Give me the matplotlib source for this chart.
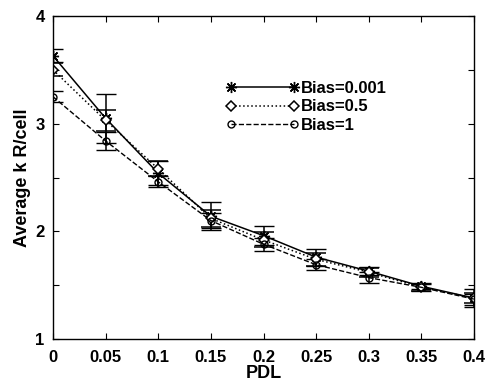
import matplotlib
matplotlib.use('Agg')
import matplotlib.pyplot as plt
from matplotlib.lines import Line2D

plt.rcParams['font.family'] = ['Liberation Sans', 'DejaVu Sans']
plt.rcParams['font.weight'] = 'bold'

pdl = [0, 0.05, 0.1, 0.15, 0.2, 0.25, 0.3, 0.35, 0.4]
bias_0001 = [3.63, 3.05, 2.54, 2.14, 1.96, 1.76, 1.63, 1.49, 1.38]
bias_0001_err = [0.06, 0.23, 0.11, 0.13, 0.09, 0.08, 0.04, 0.03, 0.08]
bias_05 = [3.50, 3.03, 2.58, 2.12, 1.92, 1.74, 1.62, 1.48, 1.38]
bias_05_err = [0.06, 0.10, 0.07, 0.08, 0.07, 0.06, 0.04, 0.03, 0.05]
bias_1 = [3.25, 2.84, 2.46, 2.10, 1.88, 1.69, 1.57, 1.48, 1.37]
bias_1_err = [0.05, 0.08, 0.05, 0.07, 0.06, 0.05, 0.05, 0.03, 0.05]

fig = plt.figure(figsize=(4.88, 3.83), dpi=100)
ax = fig.add_axes([53 / 488, 1 - 339 / 383, 421 / 488, 323 / 383])

styles = [
    dict(linestyle='-', lw=1.1, marker=(8, 2, 0), ms=8, mew=1.0, mfc='black'),
    dict(linestyle=':', lw=1.1, marker='D', ms=5, mew=1.1, mfc='white'),
    dict(linestyle='--', lw=1.0, marker='o', ms=5, mew=1.0, mfc='none'),
]
series = [(bias_0001, bias_0001_err, 'Bias=0.001'),
          (bias_05, bias_05_err, 'Bias=0.5'),
          (bias_1, bias_1_err, 'Bias=1')]

handles = []
for (vals, err, name), st in zip(series, styles):
    ax.errorbar(pdl, vals, yerr=err, color='black', capsize=7,
                elinewidth=1.1, capthick=1.1, **st)
    handles.append(Line2D([], [], color='black', label=name, **st))

ax.set_xlim(0, 0.4)
ax.set_ylim(1, 4)
ax.set_xticks(pdl)
ax.set_xticklabels(['0', '0.05', '0.1', '0.15', '0.2', '0.25', '0.3', '0.35', '0.4'])
ax.set_yticks([1, 1.5, 2, 2.5, 3, 3.5, 4])
ax.set_yticklabels(['1', '', '2', '', '3', '', '4'])
ax.tick_params(direction='in', top=True, right=True, labelsize=12, length=4)
ax.tick_params(axis='x', pad=8)
ax.tick_params(axis='y', pad=6)
for lbl in ax.get_xticklabels() + ax.get_yticklabels():
    lbl.set_fontweight('bold')
for s in ax.spines.values():
    s.set_linewidth(1.0)

ax.set_xlabel('PDL', fontsize=13, fontweight='bold', labelpad=0)
ax.set_ylabel('Average k R/cell', fontsize=13, fontweight='bold', labelpad=3)

ax.legend(handles=handles, loc='upper left', bbox_to_anchor=(0.375, 0.845),
          frameon=False, numpoints=2, handlelength=4.4, handletextpad=0.1,
          labelspacing=0.2, prop={'weight': 'bold', 'size': 12})

fig.savefig('out.png', dpi=100)
